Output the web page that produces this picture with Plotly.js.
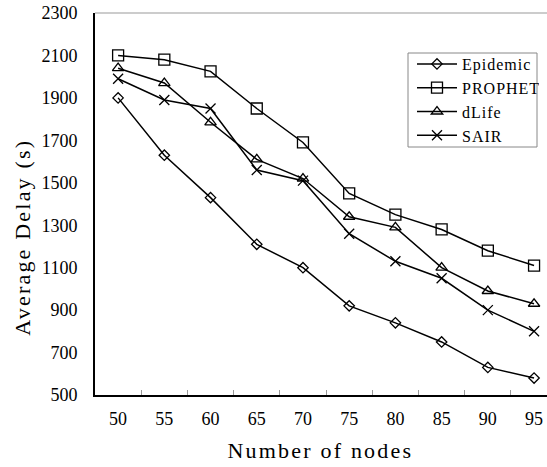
<!DOCTYPE html>
<html><head><meta charset="utf-8">
<script src="https://cdn.plot.ly/plotly-3.0.1.min.js"></script>
<style>html,body{margin:0;padding:0;background:#fff;}
#chart text.legendtext{letter-spacing:1px;}
#chart text.annotation-text{letter-spacing:2.2px;}
</style>
</head><body><div id="chart"></div>
<script>
const nodes = ['50','55','60','65','70','75','80','85','90','95'];
const epidemic = [1900,1630,1430,1210,1100,920,840,750,630,580];
const prophet = [2100,2080,2025,1850,1690,1450,1350,1280,1180,1110];
const dlife = [2040,1970,1785,1610,1520,1340,1290,1100,990,930];
const sair = [1990,1890,1850,1560,1510,1260,1130,1050,900,800];
const names = ['Epidemic','PROPHET','dLife','SAIR'];
const symbols = ['diamond-open','square-open','triangle-up-open','x-thin-open'];
const sizes = [8,11,10,10];
const series = [epidemic, prophet, dlife, sair];

const FONT = '"Liberation Serif", "Times New Roman", serif';
const PW = 452, PH = 382, PL = 95, PT = 13;
const px = v => (v - PL) / PW;
const py = v => 1 - (v - PT) / PH;

const traces = series.map((s,i)=>({
  x: nodes, y: s, name: names[i], type:'scatter', mode:'lines+markers',
  line:{color:'#000', width:1.5},
  marker:{symbol:symbols[i], size:sizes[i], color:'#000', line:{color:'#000', width:1.3}}
}));

const layout = {
  width:547, height:467,
  font:{family:FONT, color:'#000'},
  margin:{l:95, r:0, t:13, b:72},
  paper_bgcolor:'#fff', plot_bgcolor:'#fff',
  showlegend:true,
  legend:{x:px(412), y:py(47), xanchor:'left', yanchor:'top', bgcolor:'rgba(0,0,0,0)',
    borderwidth:0, itemwidth:40,
    font:{family:FONT, size:16, color:'#000'}},
  xaxis:{type:'category', range:[-0.5, 9.28], showgrid:false, zeroline:false,
    showline:true, linecolor:'#000', linewidth:2,
    ticks:'inside', tickson:'boundaries', ticklen:5, tickcolor:'#999', tickwidth:1,
    tickfont:{family:FONT, size:18, color:'#000'},
    ticklabelstandoff:6},
  yaxis:{range:[500,2300], dtick:200, tick0:500, showgrid:false, zeroline:false,
    showline:true, linecolor:'#000', linewidth:2, ticks:'',
    tickfont:{family:FONT, size:18, color:'#000'},
    ticklabelstandoff:12},
  shapes:[
    {type:'line', xref:'paper', yref:'paper', x0:0, x1:1, y0:1, y1:1,
     line:{color:'#999', width:1}},
    {type:'rect', xref:'paper', yref:'paper', x0:px(408), x1:px(537), y0:py(147), y1:py(53),
     line:{color:'#888', width:1}, fillcolor:'rgba(0,0,0,0)'}
  ],
  annotations:[
    {text:'Number of nodes', xref:'paper', yref:'paper', x:px(320), y:py(450),
     xanchor:'center', yanchor:'middle', showarrow:false,
     font:{family:FONT, size:22, color:'#000'}},
    {text:'Average Delay (s)', xref:'paper', yref:'paper', x:px(23), y:py(237),
     xanchor:'center', yanchor:'middle', textangle:-90, showarrow:false,
     font:{family:FONT, size:22, color:'#000'}}
  ]
};
Plotly.newPlot('chart', traces, layout, {displayModeBar:false});
</script></body></html>
